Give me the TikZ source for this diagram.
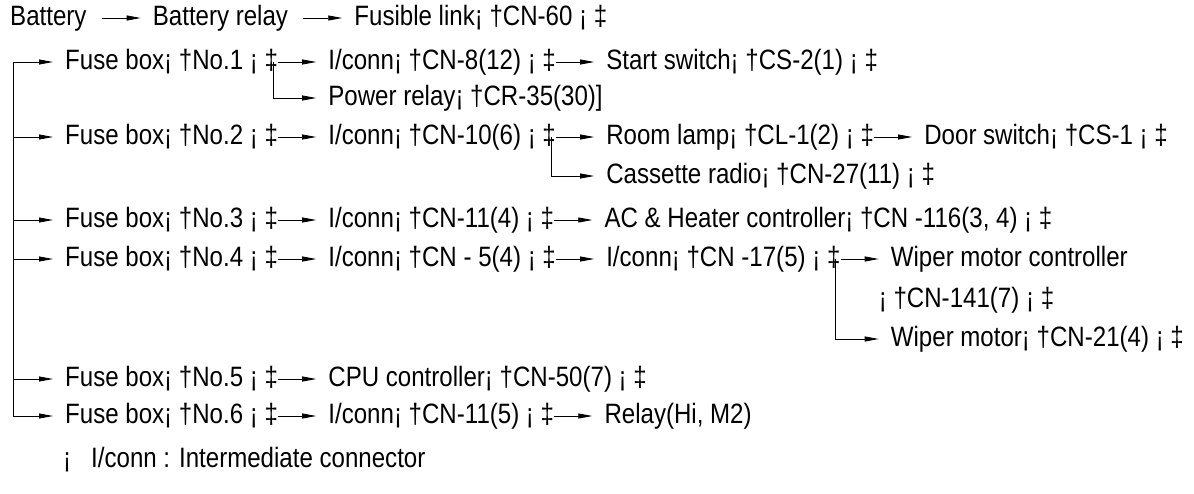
\documentclass[tikz,border=0pt]{standalone}
\usepackage{fontspec}
\setmainfont{Liberation Sans}[FakeStretch=0.86]
\usetikzlibrary{positioning,arrows.meta}
\tikzset{
  lbl/.style={inner sep=0pt, text height=20pt, text depth=6pt},
  arr/.style={-{Triangle[length=14pt,width=5pt]}, line width=0.8pt, shorten >=12pt},
}
\begin{document}
\begin{tikzpicture}[x=1pt, y=-1pt, node distance=50pt, font=\fontsize{28}{30}\selectfont]
  \useasboundingbox (0,0) rectangle (1194,493);
  % Supply line
  \node[lbl, anchor=west] (bat) at (10,18) {Battery};
  \node[lbl, right=66pt of bat] (batrel) {Battery relay};
  \node[lbl, right=66pt of batrel] (link) {Fusible link¡ †CN-60 ¡ ‡};
  \draw[arr, shorten <=15pt] (bat) -- (batrel);
  \draw[arr, shorten <=15pt] (batrel) -- (link);
  % Fuse box 1
  \node[lbl, anchor=west] (fb1) at (65,62) {Fuse box¡ †No.1 ¡ ‡};
  \node[lbl, right=of fb1] (ic8) {I/conn¡ †CN-8(12) ¡ ‡};
  \node[lbl, right=of ic8] (start) {Start switch¡ †CS-2(1) ¡ ‡};
  \node[lbl, anchor=west] (prel) at ([yshift=-36pt]ic8.west) {Power relay¡ †CR-35(30)]};
  \draw[arr] (fb1) -- (ic8);
  \draw[arr] (ic8) -- (start);
  \draw[arr] ([xshift=-5pt]fb1.east) |- (prel.west);
  % Fuse box 2
  \node[lbl, anchor=west] (fb2) at (65,137) {Fuse box¡ †No.2 ¡ ‡};
  \node[lbl, right=of fb2] (ic10) {I/conn¡ †CN-10(6) ¡ ‡};
  \node[lbl, right=of ic10] (lamp) {Room lamp¡ †CL-1(2) ¡ ‡};
  \node[lbl, right=of lamp] (door) {Door switch¡ †CS-1 ¡ ‡};
  \node[lbl, anchor=west] (radio) at ([yshift=-39pt]lamp.west) {Cassette radio¡ †CN-27(11) ¡ ‡};
  \draw[arr] (fb2) -- (ic10);
  \draw[arr] (ic10) -- (lamp);
  \draw[arr] (lamp) -- (door);
  \draw[arr] ([xshift=-5pt]ic10.east) |- (radio.west);
  % Fuse box 3
  \node[lbl, anchor=west] (fb3) at (65,220) {Fuse box¡ †No.3 ¡ ‡};
  \node[lbl, right=of fb3] (ic11a) {I/conn¡ †CN-11(4) ¡ ‡};
  \node[lbl, right=of ic11a] (heater) {AC \& Heater controller¡ †CN -116(3, 4) ¡ ‡};
  \draw[arr] (fb3) -- (ic11a);
  \draw[arr] (ic11a) -- (heater);
  % Fuse box 4
  \node[lbl, anchor=west] (fb4) at (65,259) {Fuse box¡ †No.4 ¡ ‡};
  \node[lbl, right=of fb4] (ic5) {I/conn¡ †CN - 5(4) ¡ ‡};
  \node[lbl, right=of ic5] (ic17) {I/conn¡ †CN -17(5) ¡ ‡};
  \node[lbl, right=of ic17] (wctrl) {Wiper motor controller};
  \node[lbl, anchor=west] (wctrlcn) at ([xshift=-12pt, yshift=-41pt]wctrl.west) {¡ †CN-141(7) ¡ ‡};
  \node[lbl, anchor=west] (wmot) at ([yshift=-80pt]wctrl.west) {Wiper motor¡ †CN-21(4) ¡ ‡};
  \draw[arr] (fb4) -- (ic5);
  \draw[arr] (ic5) -- (ic17);
  \draw[arr] (ic17) -- (wctrl);
  \draw[arr] ([xshift=-5pt]ic17.east) |- (wmot.west);
  % Fuse box 5
  \node[lbl, anchor=west] (fb5) at (65,379) {Fuse box¡ †No.5 ¡ ‡};
  \node[lbl, right=of fb5] (cpu) {CPU controller¡ †CN-50(7) ¡ ‡};
  \draw[arr] (fb5) -- (cpu);
  % Fuse box 6
  \node[lbl, anchor=west] (fb6) at (65,416) {Fuse box¡ †No.6 ¡ ‡};
  \node[lbl, right=of fb6] (ic11b) {I/conn¡ †CN-11(5) ¡ ‡};
  \node[lbl, right=of ic11b] (relhi) {Relay(Hi, M2)};
  \draw[arr] (fb6) -- (ic11b);
  \draw[arr] (ic11b) -- (relhi);
  % Bus to the fuse boxes
  \coordinate (bus) at (13,62);
  \draw[line width=0.8pt] (fb1.west -| bus) -- (fb6.west -| bus);
  \foreach \i in {1,...,6}
    \draw[arr] (fb\i.west -| bus) -- (fb\i.west);
  % Note
  \node[lbl, anchor=west] (note) at (63,460) {¡\hspace{20pt}I/conn : Intermediate connector};
\end{tikzpicture}
\end{document}
